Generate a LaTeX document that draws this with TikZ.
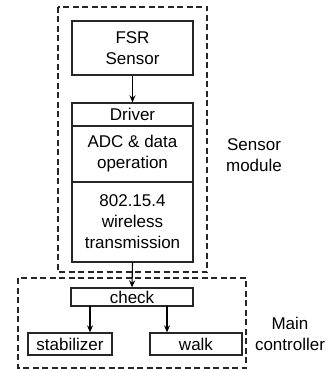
\documentclass[tikz,border=0pt]{standalone}
\usepackage{fontspec}
\setmainfont{Liberation Sans}
\usetikzlibrary{arrows.meta}
\begin{document}
\begin{tikzpicture}[x=1pt,y=-1pt,
  box/.style={draw=black!85,line width=1.3pt,inner sep=0pt,align=center,font=\fontsize{17}{21}\selectfont},
  grp/.style={draw=black!85,line width=1.1pt,dash pattern=on 6pt off 3.5pt},
  lbl/.style={align=center,inner sep=0pt,font=\fontsize{17}{21}\selectfont},
  arr/.style={line width=1.1pt,-{Stealth[length=7pt,width=6pt]}}]
\useasboundingbox (0,0) rectangle (328,371);
\draw[grp] (58,7) rectangle (207,272);
\draw[grp] (18,278) rectangle (246,368);
\node[box,minimum width=121pt,minimum height=54pt] (fsr) at (132.5,48) {FSR\\Sensor};
\node[box,minimum width=121pt,minimum height=23pt] (drv) at (132.5,114.5) {Driver};
\node[box,minimum width=121pt,minimum height=56pt] (adc) at (132.5,154) {ADC \& data\\operation};
\node[box,minimum width=121pt,minimum height=80pt] (wl) at (132.5,222) {802.15.4\\wireless\\transmission};
\node[box,minimum width=122pt,minimum height=18pt] (chk) at (132,297) {check};
\node[box,minimum width=84pt,minimum height=22pt] (stab) at (70,344) {stabilizer};
\node[box,minimum width=92pt,minimum height=22pt] (walk) at (196,344) {walk};
\node[lbl] (sm) at (254,155) {Sensor\\module};
\node[lbl] (mc) at (290,334) {Main\\controller};
\draw[arr] (fsr.south) -- (drv.north);
\draw[arr] (wl.south) -- (chk.north);
\coordinate (c1) at (90,306);
\coordinate (c2) at (167,306);
\draw[arr] (c1) -- (c1 |- stab.north);
\draw[arr] (c2) -- (c2 |- walk.north);
\end{tikzpicture}
\end{document}
